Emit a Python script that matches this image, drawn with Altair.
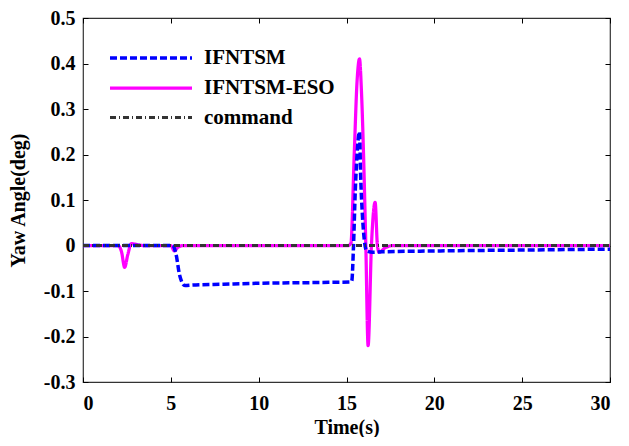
import altair as alt
import pandas as pd

# ---- data ----
series_names = ["IFNTSM", "IFNTSM-ESO", "command"]

t_ifntsm = [0, 5.1, 5.3, 5.5, 5.8, 6.2, 8, 10, 12, 14, 15.2, 15.3, 15.4, 15.5, 15.6, 15.74,
            15.8, 15.9, 15.97, 16.15, 16.5, 17, 20, 25, 30]
v_ifntsm = [0, 0, -0.02, -0.065, -0.088, -0.087, -0.085, -0.083, -0.082, -0.081, -0.08, -0.078,
            0.0, 0.12, 0.2, 0.25, 0.16, 0.07, 0.03, -0.012, -0.015, -0.014, -0.012, -0.01, -0.008]

t_eso = [0, 2.0, 2.2, 2.37, 2.55, 2.75, 2.95, 3.4, 5.0, 5.2, 5.4, 5.7, 15.1, 15.25, 15.44,
         15.6, 15.74, 15.85, 15.97, 16.1, 16.23, 16.42, 16.63, 16.76, 16.86, 17.2, 17.7, 30]
v_eso = [0, 0, -0.015, -0.048, -0.02, 0.004, 0.003, 0, 0, -0.012, -0.004, 0, 0, 0.005, 0.2,
         0.36, 0.41, 0.34, 0.2, 0, -0.22, 0, 0.095, 0, -0.015, -0.005, 0, 0]

t_cmd = [0, 30]
v_cmd = [0, 0]

x_ticks = [0, 5, 10, 15, 20, 25, 30]
y_ticks = [-0.3, -0.2, -0.1, 0, 0.1, 0.2, 0.3, 0.4, 0.5]

rows = []
for name, ts, vs in [("IFNTSM", t_ifntsm, v_ifntsm),
                     ("IFNTSM-ESO", t_eso, v_eso),
                     ("command", t_cmd, v_cmd)]:
    for t, v in zip(ts, vs):
        rows.append({"t": t, "v": v, "series": name})
df = pd.DataFrame(rows)

FONT = "Liberation Serif"
xscale = alt.Scale(domain=[0, 30], nice=False, zero=False)
yscale = alt.Scale(domain=[-0.3, 0.5], nice=False, zero=False)

legend = alt.Legend(orient="none", legendX=56, legendY=28, padding=0, title=None,
                    symbolType="M-4.1,0L4.1,0", symbolSize=400,
                    labelFont=FONT, labelFontSize=21, labelFontWeight="bold",
                    labelColor="black", rowPadding=8, labelOffset=41)

color = alt.Color("series:N", legend=legend,
                  scale=alt.Scale(domain=series_names, range=["#0000FF", "#FF00FF", "#333333"]))
dash = alt.StrokeDash("series:N", legend=legend,
                      scale=alt.Scale(domain=series_names, range=[[7, 3], [1, 0], [6, 3, 1, 3]]))
width = alt.StrokeWidth("series:N", legend=legend,
                        scale=alt.Scale(domain=series_names, range=[3.5, 3, 1]))

label_expr_y = "datum.value == 0 ? '0' : replace(format(datum.value, '.1f'), '\u2212', '-')"

x_main = alt.X("t:Q", scale=xscale, title="Time(s)",
               axis=alt.Axis(values=x_ticks, ticks=False, domain=False, grid=False,
                             labelFont=FONT, labelFontSize=20, labelFontWeight="bold",
                             labelColor="black", labelPadding=11,
                             titleFont=FONT, titleFontSize=20, titleFontWeight="bold",
                             titleColor="black", titlePadding=4))
y_main = alt.Y("v:Q", scale=yscale, title="Yaw Angle(deg)",
               axis=alt.Axis(values=y_ticks, ticks=False, domain=False, grid=False,
                             labelExpr=label_expr_y,
                             labelFont=FONT, labelFontSize=20, labelFontWeight="bold",
                             labelColor="black", labelPadding=8,
                             titleFont=FONT, titleFontSize=20, titleFontWeight="bold",
                             titleColor="black", titlePadding=15))


def series_layer(name, with_axes):
    xe = x_main if with_axes else alt.X("t:Q", scale=xscale, axis=None)
    ye = y_main if with_axes else alt.Y("v:Q", scale=yscale, axis=None)
    return alt.Chart(df).transform_filter(alt.datum.series == name).mark_line(
        interpolate="monotone").encode(
        x=xe, y=ye, color=color, strokeDash=dash, strokeWidth=width)


eso_layer = series_layer("IFNTSM-ESO", True)
ifntsm_layer = series_layer("IFNTSM", False)
cmd_layer = series_layer("command", False)


def tick_layer(xorient, yorient):
    ax = alt.Axis(orient=xorient, values=x_ticks, labels=False, domain=False, grid=False,
                  ticks=True, tickSize=5, tickColor="black", offset=-5, title=None)
    ay = alt.Axis(orient=yorient, values=y_ticks, labels=False, domain=False, grid=False,
                  ticks=True, tickSize=5, tickColor="black", offset=-5, title=None)
    return alt.Chart(df).transform_filter(alt.datum.series == "command").mark_line(
        opacity=0).encode(
        x=alt.X("t:Q", scale=xscale, axis=ax),
        y=alt.Y("v:Q", scale=yscale, axis=ay))


chart = alt.layer(
    eso_layer, ifntsm_layer, cmd_layer,
    tick_layer("bottom", "left"), tick_layer("top", "right")
).resolve_axis(x="independent", y="independent").properties(
    width=527, height=364, background="white",
    padding={"left": 0, "top": 0, "right": 0, "bottom": 0}
).configure_view(
    stroke="#333333", strokeWidth=1.2
)

chart.save("out.html", embed_options={"renderer": "svg", "actions": False})
